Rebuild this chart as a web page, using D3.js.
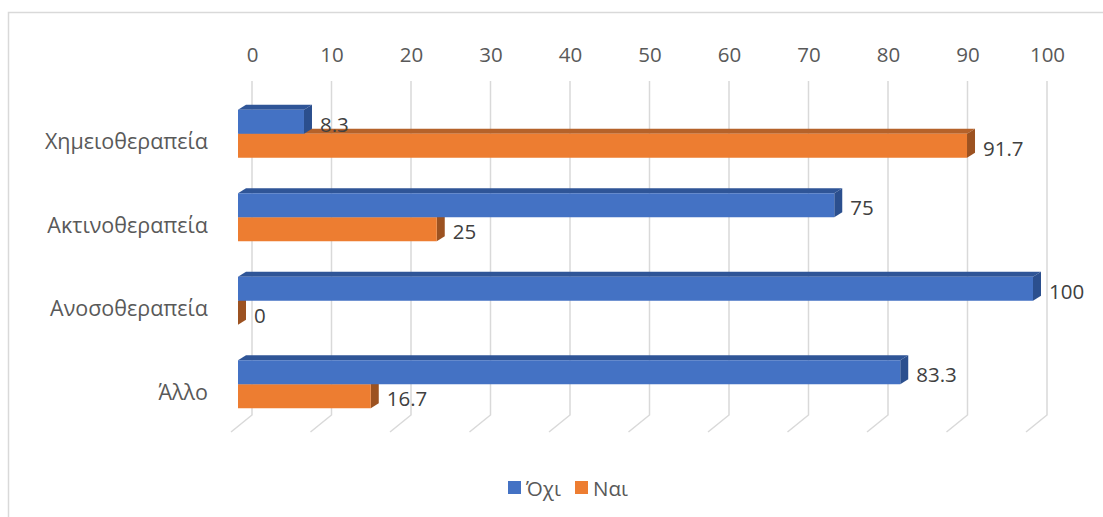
<!DOCTYPE html>
<html>
<head>
<meta charset="utf-8">
<script src="https://cdn.jsdelivr.net/npm/d3@7"></script>
<style>
  html, body { margin: 0; padding: 0; background: #fff; }
  svg { display: block; }
  text { font-family: "Open Sans", "Noto Sans", sans-serif; }
</style>
</head>
<body>
<svg id="chart" width="1103" height="517"></svg>
<script>
// Treatment categories, top to bottom
const categories = ["Χημειοθεραπεία", "Ακτινοθεραπεία", "Ανοσοθεραπεία", "Άλλο"];
// Series names (legend)
const seriesNames = ["Όχι", "Ναι"];
// Percentages per category
const valuesOxi = [8.3, 75, 100, 83.3];
const valuesNai = [91.7, 25, 0, 16.7];
// Axis tick labels
const tickValues = [0, 10, 20, 30, 40, 50, 60, 70, 80, 90, 100];

const colors = {
  "Όχι": { front: "#4472C4", top: "#2F5597", side: "#2B4F8E" },
  "Ναι": { front: "#ED7D31", top: "#B5622A", side: "#9C5221" }
};

const fontSize = 20.5;
const svg = d3.select("#chart");

// Outer chart frame
svg.append("rect")
  .attr("x", 8.5).attr("y", 12.5)
  .attr("width", 1200).attr("height", 600)
  .attr("fill", "none").attr("stroke", "#D9D9D9").attr("stroke-width", 1.5);

// Front-plane value scale; the back wall sits a little up/right of it
const x = d3.scaleLinear().domain([0, 100]).range([238, 1033]);
const wallDx = 14;
const gridTop = 81, gridBottom = 415, floorDx = -21, floorDy = 17;

const y = d3.scaleBand().domain(categories).range([92, 426]).paddingInner(0).paddingOuter(0);
const barH = 24;
const depthDx = 8, depthDy = -5;

// Back-wall gridlines with their slanted floor continuation
const grid = svg.append("g");
tickValues.forEach(t => {
  const gx = x(t) + wallDx;
  grid.append("path")
    .attr("d", `M${gx},${gridTop}L${gx},${gridBottom}L${gx + floorDx},${gridBottom + floorDy}`)
    .attr("fill", "none").attr("stroke", "#D9D9D9").attr("stroke-width", 1.5);
});

// Top axis labels
const axis = d3.axisTop(d3.scaleLinear().domain([0, 100]).range([238 + wallDx, 1033 + wallDx]))
  .tickValues(tickValues).tickSize(0).tickPadding(0).tickFormat(d3.format("d"));
const axisG = svg.append("g").attr("transform", "translate(0,62)").call(axis);
axisG.select(".domain").remove();
axisG.selectAll("text")
  .attr("fill", "#595959").attr("font-size", fontSize)
  .attr("font-family", "'Open Sans', 'Noto Sans', sans-serif");

// Category labels
svg.append("g").selectAll("text").data(categories).join("text")
  .attr("x", 208)
  .attr("y", d => y(d) + y.bandwidth() / 2 + 7)
  .attr("text-anchor", "end").attr("dominant-baseline", "central")
  .attr("fill", "#595959").attr("font-size", 21.5)
  .text(d => d);

// Draws one 3D bar: front face, top face and right side
function bar3d(g, v, yTop, c) {
  const x0 = x(0), x1 = x(v);
  g.append("path")
    .attr("d", `M${x0},${yTop}L${x0 + depthDx},${yTop + depthDy}L${x1 + depthDx},${yTop + depthDy}L${x1},${yTop}Z`)
    .attr("fill", c.top);
  g.append("path")
    .attr("d", `M${x1},${yTop}L${x1 + depthDx},${yTop + depthDy}L${x1 + depthDx},${yTop + barH + depthDy}L${x1},${yTop + barH}Z`)
    .attr("fill", c.side);
  g.append("rect")
    .attr("x", x0).attr("y", yTop).attr("width", x1 - x0).attr("height", barH)
    .attr("fill", c.front);
}

const bars = svg.append("g");
categories.forEach((cat, i) => {
  const mid = y(cat) + y.bandwidth() / 2;
  // lower series first so the upper bar covers its top face
  bar3d(bars, valuesNai[i], mid, colors["Ναι"]);
  bar3d(bars, valuesOxi[i], mid - barH, colors["Όχι"]);
});

// Value labels
const labels = svg.append("g");
categories.forEach((cat, i) => {
  const mid = y(cat) + y.bandwidth() / 2;
  [[valuesOxi[i], mid - barH / 2], [valuesNai[i], mid + barH / 2]].forEach(([v, cy]) => {
    labels.append("text")
      .attr("x", x(v) + 16).attr("y", cy + 2)
      .attr("dominant-baseline", "central")
      .attr("fill", "#404040").attr("font-size", fontSize)
      .text(v);
  });
});

// Legend
const legend = svg.append("g").attr("transform", "translate(508,481)");
seriesNames.forEach((s, i) => {
  const lg = legend.append("g").attr("transform", `translate(${i * 67},0)`);
  lg.append("rect").attr("width", 13).attr("height", 13).attr("fill", colors[s].front);
  lg.append("text").attr("x", 18).attr("y", 7).attr("dominant-baseline", "central")
    .attr("fill", "#595959").attr("font-size", fontSize).text(s);
});
</script>
</body>
</html>
